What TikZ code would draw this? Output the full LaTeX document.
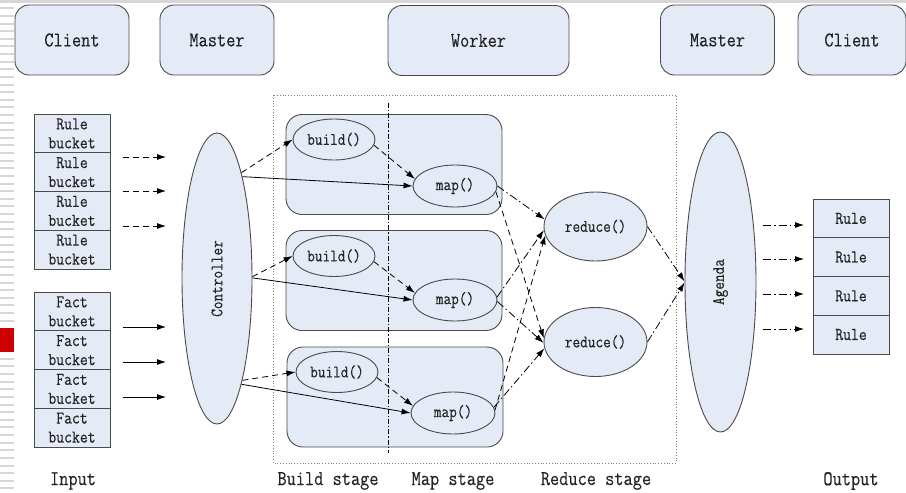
\documentclass[tikz,border=0pt]{standalone}
\usepackage{fontspec}
\usepackage{graphicx}
\newfontfamily\dfont{Latin Modern Mono}[FakeStretch=0.85,FakeBold=0.25]
\usetikzlibrary{shapes.geometric,arrows.meta}
\definecolor{boxfill}{RGB}{228,234,246}
\definecolor{boxline}{RGB}{75,75,75}
\definecolor{stripe}{RGB}{215,215,215}
\definecolor{redmark}{RGB}{204,0,0}
\definecolor{txt}{RGB}{35,35,35}
\begin{document}
\begin{tikzpicture}[x=1pt,y=-1pt,
  topbox/.style={draw=boxline,fill=boxfill,line width=0.9pt,rounded corners=14pt,minimum width=114pt,minimum height=70pt,text=txt,font=\dfont\fontsize{21}{22}\selectfont},
  cell/.style={draw=boxline,fill=boxfill,line width=0.9pt,minimum width=76pt,minimum height=38.75pt,inner sep=0pt,align=center,text=txt,font=\dfont\fontsize{18}{19}\selectfont},
  wbox/.style={draw=boxline,fill=boxfill,line width=0.9pt,rounded corners=16pt,minimum width=216pt,minimum height=100pt},
  oval/.style={draw=boxline,fill=boxfill,line width=0.9pt,ellipse,inner sep=0pt,text=txt,font=\dfont\fontsize{17.5}{18}\selectfont},
  lbl/.style={text=txt,font=\dfont\fontsize{21}{22}\selectfont},
  arr/.style={-{Latex[length=9pt,width=6pt]},line width=0.8pt},
  dsh/.style={arr,dash pattern=on 6pt off 4pt},
  dshdot/.style={arr,dash pattern=on 8pt off 3pt on 1.5pt off 3pt},
]
\useasboundingbox (0,0) rectangle (906,493);
% page decorations
\fill[stripe] (0,0) rectangle (906,3);
\foreach \k in {0,...,63}{\fill[stripe] (0,{8.3+7.62*\k-1}) rectangle (14,{8.3+7.62*\k+1});}
\fill[white] (0,326) rectangle (14,354);
\fill[redmark] (0,328) rectangle (14,352);

% top boxes
\node[topbox] (client1) at (72,40) {Client};
\node[topbox] (master1) at (217,40) {Master};
\node[topbox,minimum width=181pt] (worker) at (478.5,40.5) {Worker};
\node[topbox] (master2) at (717.5,40) {Master};
\node[topbox,minimum width=108pt] (client2) at (852,40) {Client};

% stage frame
\draw[gray,dotted,line width=0.8pt] (273,95) rectangle (676,463);

% input buckets
\foreach \i/\y in {1/133.4,2/172.1,3/210.9,4/249.6}{\node[cell] (rb\i) at (72,\y) {Rule\\bucket};}
\foreach \i/\y in {1/311.4,2/350.1,3/388.9,4/427.6}{\node[cell] (fb\i) at (72,\y) {Fact\\bucket};}

% controller
\node[oval,minimum width=70pt,minimum height=291pt] (ctrl) at (217,278.5) {\rotatebox{90}{Controller}};

% bucket arrows
\foreach \i/\y in {1/157,2/191,3/226}{
  \coordinate (rs\i) at (123,\y); \coordinate (re\i) at (166,\y);
  \draw[dsh] (rs\i) -- (re\i);}
\foreach \i/\y in {1/327,2/362,3/397}{
  \coordinate (fs\i) at (123,\y); \coordinate (fe\i) at (166,\y);
  \draw[arr] (fs\i) -- (fe\i);}

% worker boxes
\node[wbox] (w1) at (394,164.5) {};
\node[wbox] (w2) at (394,280.5) {};
\node[wbox] (w3) at (395,397) {};
\draw[line width=0.8pt,dash pattern=on 5pt off 2pt on 1.2pt off 2pt] (388,103) -- (388,453);

\node[oval,minimum width=82pt,minimum height=41pt] (b1) at (334,139.5) {build()};
\node[oval,minimum width=82pt,minimum height=41pt] (b2) at (334,256) {build()};
\node[oval,minimum width=82pt,minimum height=41pt] (b3) at (337,372) {build()};
\node[oval,minimum width=84pt,minimum height=42pt] (m1) at (455,186) {map()};
\node[oval,minimum width=84pt,minimum height=42pt] (m2) at (455,300) {map()};
\node[oval,minimum width=84pt,minimum height=42pt] (m3) at (453,413) {map()};

\node[oval,minimum width=103pt,minimum height=69pt] (r1) at (595.5,226.5) {reduce()};
\node[oval,minimum width=103pt,minimum height=69pt] (r2) at (595.5,342) {reduce()};

\node[oval,minimum width=71pt,minimum height=300pt] (agenda) at (720.5,282) {\rotatebox{90}{Agenda}};

% output rules
\foreach \i/\y in {1/218.4,2/257.1,3/295.9,4/334.6}{\node[cell] (out\i) at (851,\y) {Rule};}
\foreach \i/\y in {1/225,2/259,3/294,4/329}{
  \coordinate (os\i) at (763,\y); \coordinate (oe\i) at (804,\y);
  \draw[dshdot] (os\i) -- (oe\i);}

% controller to workers
\draw[dsh] (ctrl.77) -- (b1.west);
\draw[arr] (ctrl.76) -- (m1.west);
\draw[dsh] (ctrl.3) -- (b2.west);
\draw[arr] (ctrl.1) -- (m2.west);
\draw[dsh] (ctrl.-76) -- (b3.west);
\draw[arr] (ctrl.-77) -- (m3.west);

% build to map
\draw[dsh] (b1.-8) -- (m1.170);
\draw[dsh] (b2.-8) -- (m2.170);
\draw[dsh] (b3.-8) -- (m3.170);

% map to reduce
\draw[dshdot] (m1.east) -- (r1.172);
\draw[dsh] (m1.-8) -- (r2.176);
\draw[dshdot] (m2.4) -- (r1.184);
\draw[dshdot] (m2.-2) -- (r2.181);
\draw[dsh] (m3.4) -- (r1.190);
\draw[dshdot] (m3.8) -- (r2.187);

% reduce to agenda
\draw[dshdot] (r1.east) -- (agenda.179);
\draw[dshdot] (r2.east) -- (agenda.181);

% stage labels
\node[lbl] (lin) at (73,481) {Input};
\node[lbl] (lbuild) at (328,481) {Build stage};
\node[lbl] (lmap) at (453,481) {Map stage};
\node[lbl] (lred) at (596,481) {Reduce stage};
\node[lbl] (lout) at (851,481) {Output};
\end{tikzpicture}
\end{document}
